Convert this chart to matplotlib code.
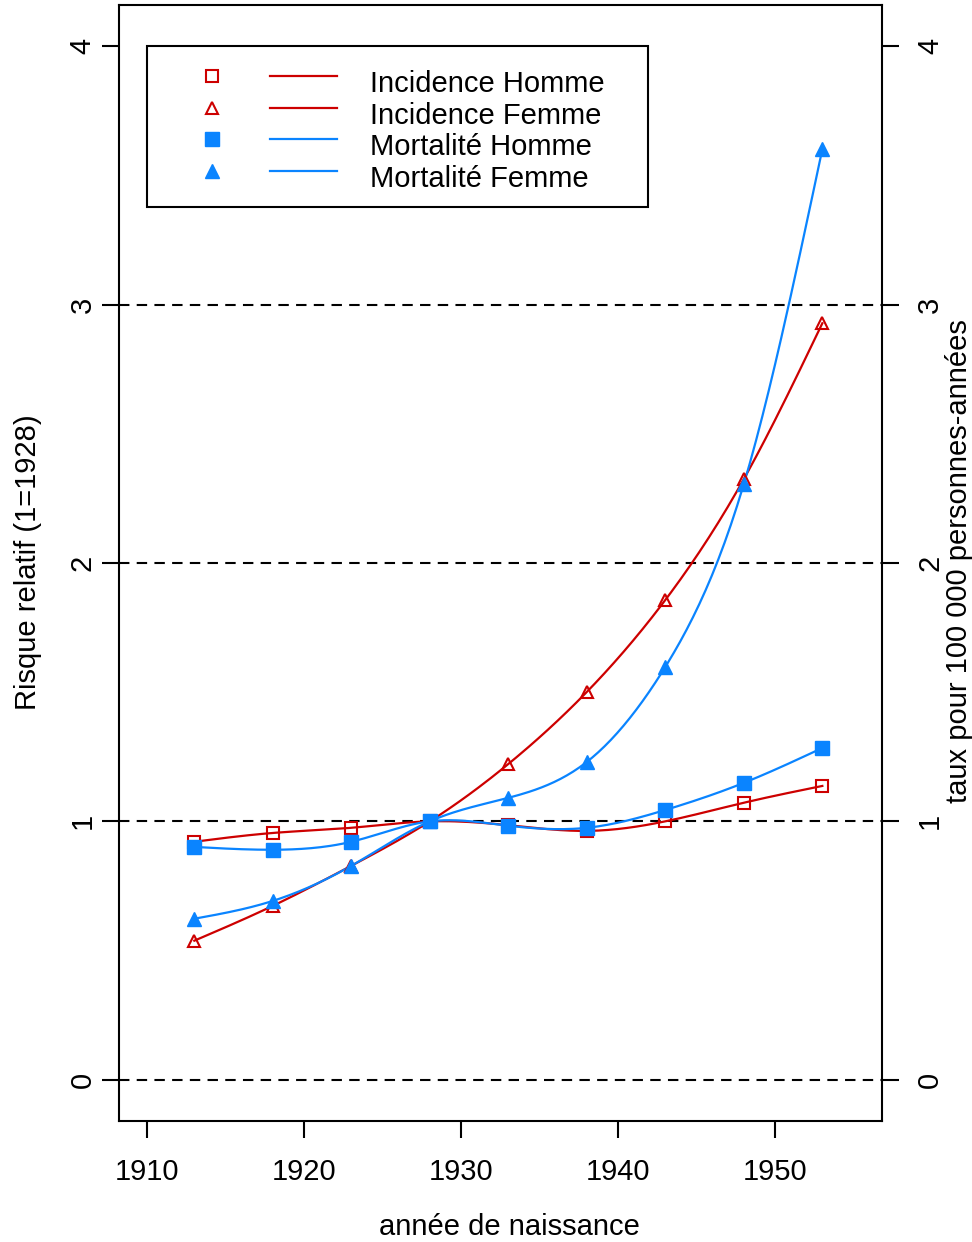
import numpy as np
import matplotlib
matplotlib.use('Agg')
from matplotlib import pyplot as plt
from matplotlib.lines import Line2D
from matplotlib.patches import Rectangle

plt.rcParams['font.family'] = ['Liberation Sans', 'DejaVu Sans']

# années de naissance (cohortes)
annees = [1913, 1918, 1923, 1928, 1933, 1938, 1943, 1948, 1953]

incidence_homme = [0.921, 0.955, 0.975, 1.0, 0.985, 0.963, 1.0, 1.072, 1.137]
incidence_femme = [0.538, 0.673, 0.828, 1.0, 1.222, 1.501, 1.857, 2.325, 2.928]
mortalite_homme = [0.901, 0.890, 0.921, 1.0, 0.983, 0.975, 1.044, 1.149, 1.284]
mortalite_femme = [0.623, 0.692, 0.828, 1.0, 1.091, 1.230, 1.598, 2.306, 3.602]

labels = ['Incidence Homme', 'Incidence Femme', 'Mortalité Homme', 'Mortalité Femme']
series = [incidence_homme, incidence_femme, mortalite_homme, mortalite_femme]
couleurs = ['#cd0000', '#cd0000', '#0a84ff', '#0a84ff']
marqueurs = ['s', '^', 's', '^']
pleins = [False, False, True, True]

y_ticks = [0, 1, 2, 3, 4]
x_ticks = [1910, 1920, 1930, 1940, 1950]
ref_lines = [0, 1, 2, 3]

FS = 21


def spline(x, y, n=200):
	# spline cubique naturelle
	x = np.asarray(x, float)
	y = np.asarray(y, float)
	k = len(x)
	h = np.diff(x)
	A = np.zeros((k, k))
	b = np.zeros(k)
	A[0, 0] = A[-1, -1] = 1
	for i in range(1, k - 1):
		A[i, i - 1] = h[i - 1]
		A[i, i] = 2 * (h[i - 1] + h[i])
		A[i, i + 1] = h[i]
		b[i] = 6 * ((y[i + 1] - y[i]) / h[i] - (y[i] - y[i - 1]) / h[i - 1])
	M = np.linalg.solve(A, b)
	xs = np.linspace(x[0], x[-1], n)
	idx = np.clip(np.searchsorted(x, xs) - 1, 0, k - 2)
	x0, x1 = x[idx], x[idx + 1]
	hh = x1 - x0
	t0 = x1 - xs
	t1 = xs - x0
	ys = (M[idx] * t0 ** 3 + M[idx + 1] * t1 ** 3) / (6 * hh) \
		+ (y[idx] / hh - M[idx] * hh / 6) * t0 \
		+ (y[idx + 1] / hh - M[idx + 1] * hh / 6) * t1
	return xs, ys


W, H = 972, 1242
fig = plt.figure(figsize=(W / 100, H / 100), dpi=100)
ax = fig.add_axes([119 / W, 1 - 1121 / H, (882 - 119) / W, (1121 - 5) / H])


def px(x, y):
	return x / W, 1 - y / H


for v in ref_lines:
	ax.axhline(v, color='black', lw=1.5, ls=(0, (5, 3.5)), zorder=1)

for vals, c, m, f in zip(series, couleurs, marqueurs, pleins):
	xs, ys = spline(annees, vals)
	ax.plot(xs, ys, color=c, lw=1.6, zorder=2)
	if f:
		ax.plot(annees, vals, ls='none', marker=m, ms=10, mfc=c, mec=c, mew=1, zorder=3)
	else:
		ax.plot(annees, vals, ls='none', marker=m, ms=8.5, mfc='none', mec=c, mew=1.5, zorder=3)

ax.set_xlim(1908.2, 1956.8)
ax.set_ylim(-0.16, 4.16)
ax.set_xticks(x_ticks)
ax.set_yticks(y_ticks)
for s in ax.spines.values():
	s.set_linewidth(1.5)

ax.tick_params(axis='both', direction='out', length=12, width=1.5, labelsize=FS)
ax.tick_params(axis='x', pad=15)
ax.tick_params(axis='y', left=True, right=True, labelleft=True, labelright=True)
for t in ax.yaxis.get_major_ticks():
	t.label1.set_rotation(90)
	t.label1.set_va('center')
	t.label1.set_ha('right')
	t.label2.set_rotation(90)
	t.label2.set_va('center')
	t.label2.set_ha('left')
	t.set_pad(4)
for t in ax.yaxis.get_major_ticks():
	t.label2.set_x(1)
ax.yaxis.set_tick_params(which='major', pad=4)
# décalage des étiquettes de droite
import matplotlib.transforms as mtransforms
off = mtransforms.ScaledTranslation(12 / 100, 0, fig.dpi_scale_trans)
for t in ax.yaxis.get_major_ticks():
	t.label2.set_transform(t.label2.get_transform() + off)

fig.text(*px(509, 1235), 'année de naissance', fontsize=FS, ha='center', va='baseline')
fig.text(*px(28, 562), 'Risque relatif (1=1928)', fontsize=FS, ha='center', va='center', rotation=90)
fig.text(*px(967, 561), 'taux pour 100 000 personnes-années', fontsize=FS, ha='center', va='baseline',
	rotation=90, rotation_mode='anchor')

# légende dessinée à la main (style R)
x0, y0 = px(147, 207)
x1, y1 = px(648, 46)
fig.add_artist(Rectangle((x0, y0), x1 - x0, y1 - y0, transform=fig.transFigure,
	facecolor='white', edgecolor='black', lw=1.5, zorder=5))
for i, (lab, c, m, f) in enumerate(zip(labels, couleurs, marqueurs, pleins)):
	yr = 76 + 31.7 * i
	mx, my = px(212, yr)
	if f:
		fig.add_artist(Line2D([mx], [my], transform=fig.transFigure, ls='none', marker=m,
			ms=10, mfc=c, mec=c, mew=1, zorder=6))
	else:
		fig.add_artist(Line2D([mx], [my], transform=fig.transFigure, ls='none', marker=m,
			ms=8.5, mfc='none', mec=c, mew=1.5, zorder=6))
	la, lb = px(270, yr)[0], px(337, yr)[0]
	fig.add_artist(Line2D([la, lb], [my, my], transform=fig.transFigure, color=c, lw=1.6, zorder=6))
	fig.text(*px(370, yr + 16), lab, fontsize=FS, ha='left', va='baseline', zorder=7)

fig.savefig('out.png', dpi=100)
